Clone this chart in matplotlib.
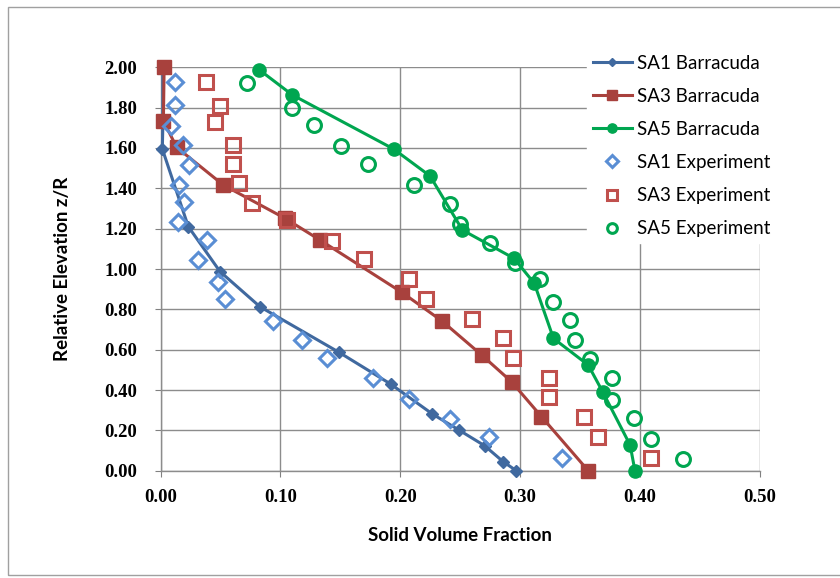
import matplotlib
matplotlib.use("Agg")
import matplotlib.pyplot as plt
from matplotlib.patches import Rectangle

# Barracuda simulation profiles (solid volume fraction, relative elevation)
sa1_sim_x = [0.297, 0.286, 0.2705, 0.249, 0.227, 0.192, 0.149, 0.083, 0.0497, 0.0232, 0.0015, 0.002, 0.002]
sa1_sim_y = [0.00, 0.045, 0.124, 0.202, 0.281, 0.430, 0.587, 0.813, 0.987, 1.21, 1.595, 1.73, 2.00]

sa3_sim_x = [0.357, 0.318, 0.293, 0.268, 0.235, 0.2015, 0.133, 0.104, 0.0525, 0.0135, 0.0024, 0.003]
sa3_sim_y = [0.00, 0.268, 0.441, 0.574, 0.742, 0.884, 1.144, 1.251, 1.416, 1.603, 1.734, 2.00]

sa5_sim_x = [0.396, 0.392, 0.369, 0.357, 0.328, 0.312, 0.295, 0.252, 0.225, 0.1945, 0.110, 0.0825]
sa5_sim_y = [0.00, 0.127, 0.392, 0.524, 0.656, 0.929, 1.053, 1.193, 1.461, 1.595, 1.863, 1.987]

# experimental data
sa1_exp_x = [0.012, 0.012, 0.0085, 0.019, 0.024, 0.0157, 0.0196, 0.0149, 0.0386, 0.0316,
             0.0483, 0.0539, 0.0942, 0.118, 0.1388, 0.1773, 0.207, 0.2413, 0.2739, 0.3352]
sa1_exp_y = [1.926, 1.813, 1.709, 1.615, 1.516, 1.416, 1.334, 1.235, 1.144, 1.045,
             0.937, 0.850, 0.744, 0.648, 0.557, 0.458, 0.354, 0.258, 0.166, 0.062]

sa3_exp_x = [0.038, 0.0497, 0.0455, 0.0608, 0.0608, 0.0658, 0.0762, 0.1054, 0.143, 0.1695,
             0.207, 0.2218, 0.26, 0.2859, 0.2942, 0.324, 0.324, 0.3538, 0.3652, 0.4095]
sa3_exp_y = [1.926, 1.808, 1.730, 1.615, 1.519, 1.425, 1.329, 1.243, 1.140, 1.048,
             0.948, 0.850, 0.751, 0.659, 0.557, 0.458, 0.364, 0.265, 0.166, 0.062]

sa5_exp_x = [0.072, 0.1096, 0.1277, 0.1505, 0.1736, 0.2112, 0.2413, 0.2496, 0.2747, 0.2962,
             0.3165, 0.3277, 0.3421, 0.3463, 0.3582, 0.3769, 0.3769, 0.395, 0.4095, 0.4363]
sa5_exp_y = [1.921, 1.797, 1.714, 1.610, 1.519, 1.416, 1.322, 1.223, 1.130, 1.031,
             0.949, 0.838, 0.747, 0.648, 0.552, 0.458, 0.350, 0.260, 0.156, 0.057]

x_ticks = [0.0, 0.1, 0.2, 0.3, 0.4, 0.5]
y_ticks = [0.0, 0.2, 0.4, 0.6, 0.8, 1.0, 1.2, 1.4, 1.6, 1.8, 2.0]

blue_dark = "#40699f"
blue_light = "#5a8ed4"
red_dark = "#a8413d"
red_light = "#c0504d"
green = "#00a650"

fig = plt.figure(figsize=(8.4, 5.78), dpi=100)
ax = fig.add_axes([0.1911, 0.1856, 0.7131, 0.698])

# chart border (right edge runs off the image like in the source)
fig.patches.append(Rectangle((8 / 840, 3 / 578), 840 / 840, 568 / 578, transform=fig.transFigure,
                             fill=False, edgecolor="#a0a0a0", linewidth=1.0))

ax.plot(sa1_sim_x, sa1_sim_y, "-D", color=blue_dark, lw=2.2, ms=6.5, label="SA1 Barracuda",
        zorder=3, clip_on=False)
ax.plot(sa3_sim_x, sa3_sim_y, "-s", color=red_dark, lw=2.2, ms=10, label="SA3 Barracuda",
        zorder=3, clip_on=False)
ax.plot(sa5_sim_x, sa5_sim_y, "-o", color=green, lw=2.2, ms=9.5, label="SA5 Barracuda",
        zorder=3, clip_on=False)
ax.plot(sa1_exp_x, sa1_exp_y, "D", ls="none", mfc="none", mec=blue_light, mew=2.2, ms=8.5,
        label="SA1 Experiment", zorder=4, clip_on=False)
ax.plot(sa3_exp_x, sa3_exp_y, "s", ls="none", mfc="none", mec=red_light, mew=2.2, ms=9.5,
        label="SA3 Experiment", zorder=4, clip_on=False)
ax.plot(sa5_exp_x, sa5_exp_y, "o", ls="none", mfc="none", mec=green, mew=2.2, ms=10,
        label="SA5 Experiment", zorder=4, clip_on=False)

ax.set_xlim(0, 0.5)
ax.set_ylim(0, 2.0)
ax.set_xticks(x_ticks)
ax.set_yticks(y_ticks)
ax.set_xticklabels([f"{v:.2f}" for v in x_ticks])
ax.set_yticklabels([f"{v:.2f}" for v in y_ticks])
for lab in ax.get_xticklabels() + ax.get_yticklabels():
    lab.set_fontfamily("Liberation Serif")
    lab.set_fontweight("bold")
    lab.set_fontsize(13.5)
ax.tick_params(axis="both", length=4, width=0.8, color="#808080")
ax.tick_params(axis="y", pad=13)
ax.tick_params(axis="x", pad=9)
ax.grid(True, color="#8c8c8c", linewidth=1.0)
ax.set_axisbelow(True)
for side in ["top", "right"]:
    ax.spines[side].set_visible(False)
for side in ["left", "bottom"]:
    ax.spines[side].set_color("#8c8c8c")
    ax.spines[side].set_linewidth(1.0)

ax.set_xlabel("Solid Volume Fraction", fontfamily="Lato", fontweight="bold", fontsize=13.5, labelpad=15)
ax.set_ylabel("Relative Elevation z/R", fontfamily="Lato", fontweight="bold", fontsize=13.5, labelpad=24)

leg = fig.legend(loc="upper left", bbox_to_anchor=(587 / 840, 1 - 49 / 578), frameon=True,
                 prop={"family": "Lato", "size": 13.5}, labelspacing=0.86, handlelength=2.1,
                 handletextpad=0.25, borderpad=0.3, borderaxespad=0, markerscale=0.7, fancybox=False)
leg.get_frame().set_edgecolor("white")
leg.get_frame().set_facecolor("white")
leg.get_frame().set_alpha(1.0)

plt.savefig("out.png", dpi=100)
